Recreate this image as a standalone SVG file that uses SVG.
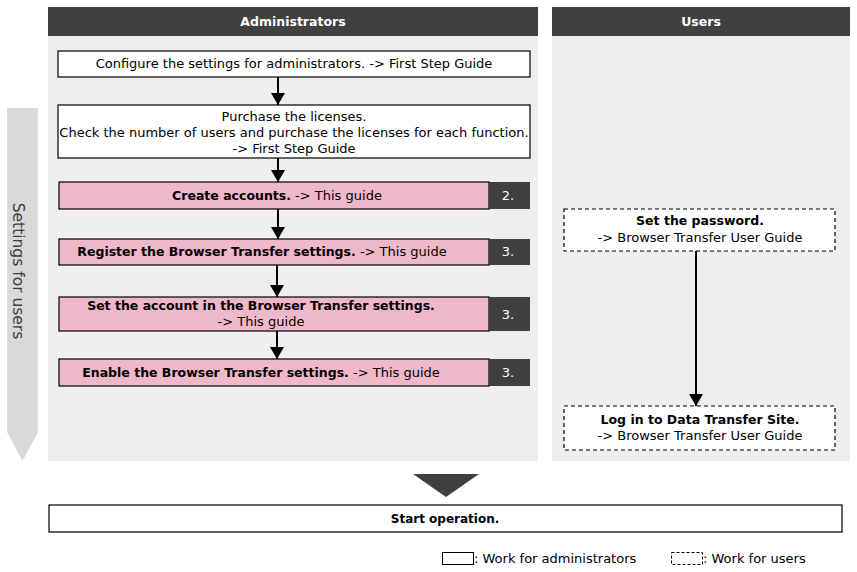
<svg xmlns="http://www.w3.org/2000/svg" width="857" height="572" viewBox="0 0 857 572">
<style>
text{font-family:"DejaVu Sans","Liberation Sans",sans-serif;font-size:13px;fill:#000}
.hdr{fill:#404040}
.hdrt{fill:#fff;font-weight:bold;font-size:12.5px}
.panel{fill:#eeeeee}
.adm{fill:#fff;stroke:#000;stroke-width:1.2}
.pink{fill:#efb8c8;stroke:#000;stroke-width:1.2}
.num{fill:#404040}
.numt{fill:#fff}
.usr{fill:#fff;stroke:#000;stroke-width:1.2;stroke-dasharray:4 3}
.b{font-weight:bold;font-size:12.5px}
.conn{stroke:#000;stroke-width:2;fill:none;marker-end:url(#ah)}
</style>
<defs>
<marker id="ah" markerUnits="userSpaceOnUse" markerWidth="12" markerHeight="14" refX="12" refY="7" orient="auto">
<path d="M0,0 L12,7 L0,14 z" fill="#000"/>
</marker>
</defs>
<rect width="857" height="572" fill="#fff"/>

<g id="lane-admin">
<rect class="panel" x="48" y="36" width="490" height="425"/>
<rect class="hdr" x="48" y="7" width="490" height="29"/>
<text class="hdrt" x="293" y="26" text-anchor="middle">Administrators</text>
</g>
<g id="lane-users">
<rect class="panel" x="552" y="36" width="298" height="425"/>
<rect class="hdr" x="552" y="7" width="298" height="29"/>
<text class="hdrt" x="701" y="26" text-anchor="middle">Users</text>
</g>

<g id="settings-arrow">
<path d="M7,108 H38 V432 L22.5,461 L7,432 z" fill="#d9d9d9"/>
<text transform="translate(13,271) rotate(90)" text-anchor="middle" style="font-size:15.5px;fill:#404040">Settings for users</text>
</g>

<g id="n1">
<rect class="adm" x="58" y="51" width="472" height="26"/>
<text x="294" y="68" text-anchor="middle">Configure the settings for administrators.  -&gt; First Step Guide</text>
</g>
<g id="n2">
<rect class="adm" x="58" y="105" width="472" height="53"/>
<text x="294" y="121" text-anchor="middle">Purchase the licenses.</text>
<text x="294" y="137" text-anchor="middle">Check the number of users and purchase the licenses for each function.</text>
<text x="294" y="153" text-anchor="middle">-&gt; First Step Guide</text>
</g>
<g id="n3">
<rect class="pink" x="59" y="182" width="430" height="27"/>
<rect class="num" x="489" y="182" width="41" height="27"/>
<text x="277" y="200" text-anchor="middle"><tspan class="b">Create accounts.</tspan>  -&gt; This guide</text>
<text class="numt" x="508" y="200" text-anchor="middle">2.</text>
</g>
<g id="n4">
<rect class="pink" x="59" y="239" width="430" height="26"/>
<rect class="num" x="489" y="239" width="41" height="26"/>
<text x="262" y="256" text-anchor="middle"><tspan class="b">Register the Browser Transfer settings.</tspan>  -&gt; This guide</text>
<text class="numt" x="508" y="256" text-anchor="middle">3.</text>
</g>
<g id="n5">
<rect class="pink" x="59" y="297" width="430" height="34"/>
<rect class="num" x="489" y="297" width="41" height="34"/>
<text class="b" x="261" y="310" text-anchor="middle">Set the account in the Browser Transfer settings.</text>
<text x="261" y="326" text-anchor="middle">-&gt; This guide</text>
<text class="numt" x="508" y="319" text-anchor="middle">3.</text>
</g>
<g id="n6">
<rect class="pink" x="59" y="359" width="430" height="27"/>
<rect class="num" x="489" y="359" width="41" height="27"/>
<text x="261" y="377" text-anchor="middle"><tspan class="b">Enable the Browser Transfer settings.</tspan>  -&gt; This guide</text>
<text class="numt" x="508" y="377" text-anchor="middle">3.</text>
</g>

<g id="u1">
<rect class="usr" x="564" y="209" width="271" height="42"/>
<text class="b" x="700" y="225" text-anchor="middle">Set the password.</text>
<text x="700" y="242" text-anchor="middle">-&gt; Browser Transfer User Guide</text>
</g>
<g id="u2">
<rect class="usr" x="564" y="406" width="271" height="44"/>
<text class="b" x="700" y="424" text-anchor="middle">Log in to Data Transfer Site.</text>
<text x="700" y="440" text-anchor="middle">-&gt; Browser Transfer User Guide</text>
</g>

<g id="connectors">
<line class="conn" x1="278" y1="77" x2="278" y2="105"/>
<line class="conn" x1="278" y1="158" x2="278" y2="182"/>
<line class="conn" x1="278" y1="209" x2="278" y2="239"/>
<line class="conn" x1="277" y1="265" x2="277" y2="297"/>
<line class="conn" x1="277" y1="331" x2="277" y2="359"/>
<line class="conn" x1="696" y1="251" x2="696" y2="406"/>
<path d="M413,474 H479 L446,497 z" fill="#404040"/>
</g>

<g id="start">
<rect class="adm" x="49" y="505" width="793" height="27"/>
<text class="b" x="445" y="523" text-anchor="middle" style="font-size:12px">Start operation.</text>
</g>

<g id="legend">
<rect x="442.5" y="552.5" width="31" height="12" fill="#fff" stroke="#000" stroke-width="1"/>
<text x="474" y="563">: Work for administrators</text>
<rect x="671.5" y="552.5" width="31" height="12" fill="#fff" stroke="#000" stroke-width="1" stroke-dasharray="3 2"/>
<text x="703" y="563">: Work for users</text>
</g>
</svg>
